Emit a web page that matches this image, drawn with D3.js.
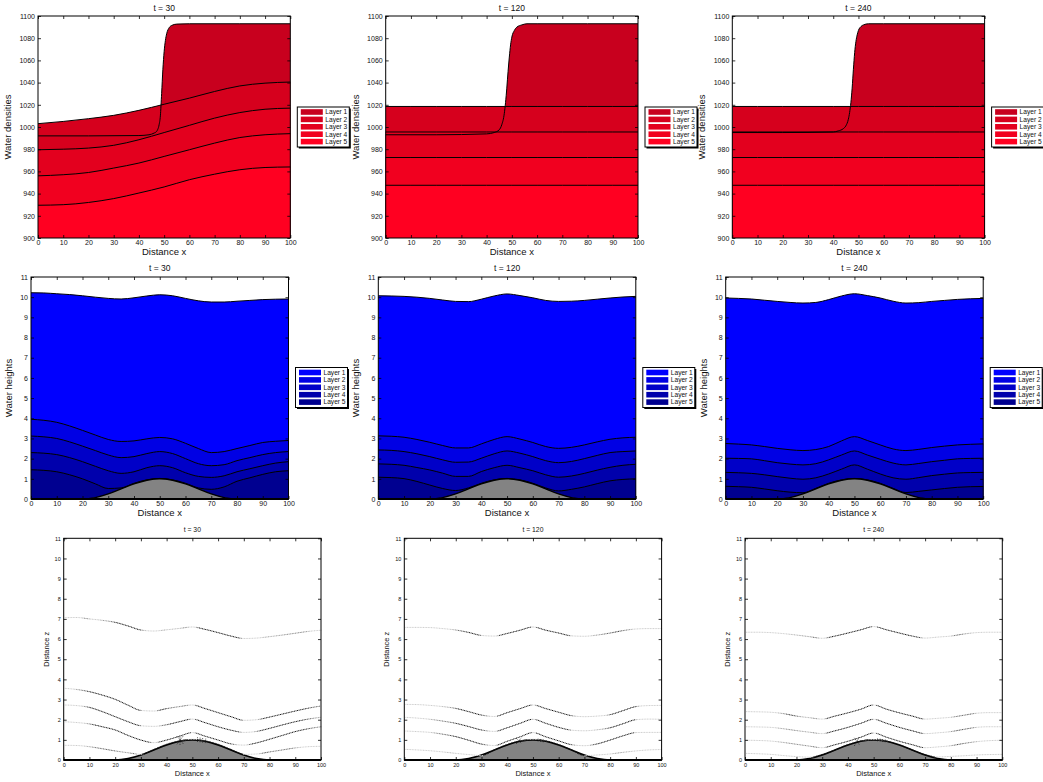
<!DOCTYPE html>
<html>
<head>
<meta charset="utf-8">
<script src="https://cdn.jsdelivr.net/npm/d3@7"></script>
<style>
  body { margin: 0; background: #fff; }
  svg { display: block; }
  text { font-family: "Liberation Sans", Arial, Helvetica, sans-serif; fill: #111; }
</style>
</head>
<body>
<svg id="fig" width="1043" height="782"></svg>
<script>
// ---------------- data ----------------
const timeLabels = ["t = 30", "t = 120", "t = 240"];
const layerNames = ["Layer 1", "Layer 2", "Layer 3", "Layer 4", "Layer 5"];

const xTicks = [0, 10, 20, 30, 40, 50, 60, 70, 80, 90, 100];
const densTicks = [900, 920, 940, 960, 980, 1000, 1020, 1040, 1060, 1080, 1100];
const heightTicks = [0, 1, 2, 3, 4, 5, 6, 7, 8, 9, 10, 11];

// densities of layers 2..5 on a coarse grid
const densX = [0, 10, 20, 30, 40, 50, 60, 70, 80, 90, 100];
const rho2_t30 = [1003, 1005, 1007.5, 1010.5, 1015, 1020.5, 1026, 1032, 1037, 1039.5, 1040.5];
const rho3_t30 = [979.5, 980, 981, 983.5, 988.5, 995, 1001.5, 1008, 1013, 1016, 1017];
const rho4_t30 = [956, 957, 959, 963, 967.5, 973.5, 979.5, 985.5, 990.5, 993, 994];
const rho5_t30 = [929.5, 930, 932, 935.5, 940.5, 946, 952.5, 957.5, 961.5, 963.5, 964];
const rho2_t120 = [1018.5, 1018.5, 1018.5, 1018.5, 1018.5, 1018.5, 1018.5, 1018.5, 1018.5, 1018.5, 1018.5];
const rho3_t120 = [995.5, 995.5, 995.5, 995.5, 995.5, 995.5, 995.5, 995.5, 995.5, 995.5, 995.5];
const rho4_t120 = [972.5, 972.5, 972.5, 972.5, 972.5, 972.5, 972.5, 972.5, 972.5, 972.5, 972.5];
const rho5_t120 = [947.5, 947.5, 947.5, 947.5, 947.5, 947.5, 947.5, 947.5, 947.5, 947.5, 947.5];
const rho2_t240 = [1018.5, 1018.5, 1018.5, 1018.5, 1018.5, 1018.5, 1018.5, 1018.5, 1018.5, 1018.5, 1018.5];
const rho3_t240 = [995.5, 995.5, 995.5, 995.5, 995.5, 995.5, 995.5, 995.5, 995.5, 995.5, 995.5];
const rho4_t240 = [972.5, 972.5, 972.5, 972.5, 972.5, 972.5, 972.5, 972.5, 972.5, 972.5, 972.5];
const rho5_t240 = [947.5, 947.5, 947.5, 947.5, 947.5, 947.5, 947.5, 947.5, 947.5, 947.5, 947.5];

// layer 1 density with the salt front (finer sampling near x = 48)
const frontX_t30 = [0, 20, 40, 44, 46, 47, 47.5, 48, 48.5, 49, 49.5, 50, 50.5, 51, 52, 53, 55, 60, 80, 100];
const rho1_t30 = [992, 992, 992.3, 993, 994.5, 996, 998, 1002, 1010, 1030, 1052, 1068, 1078, 1084, 1089.5, 1091.5, 1092.7, 1093, 1093, 1093];
const frontX_t120 = [0, 20, 40, 43, 45, 46, 47, 47.5, 48, 48.5, 49, 49.5, 50, 51, 52, 54, 56, 60, 80, 100];
const rho1_t120 = [993, 993, 993.8, 995, 997.5, 1002, 1012, 1022, 1035, 1050, 1063, 1074, 1081, 1087, 1090, 1092, 1093, 1093, 1093, 1093];
const frontX_t240 = [0, 20, 40, 42, 44, 45, 46, 46.5, 47, 47.5, 48, 48.5, 49, 49.5, 50, 51, 52, 54, 60, 100];
const rho1_t240 = [995, 995, 995.5, 996.5, 998.5, 1001, 1007, 1013, 1022, 1035, 1052, 1067, 1077, 1083, 1087, 1090.5, 1092, 1093, 1093, 1093];

// fine grid for heights and interface depths
const xGrid = [0, 5, 10, 15, 20, 25, 30, 35, 40, 45, 50, 55, 60, 65, 70, 75, 80, 85, 90, 95, 100];
const bathymetry = [0, 0, 0, 0, 0, 0.07, 0.25, 0.5, 0.75, 0.93, 1.0, 0.93, 0.75, 0.5, 0.25, 0.07, 0, 0, 0, 0, 0];

// top of each layer (layer 1 = free surface)
const h1_t30 = [10.22, 10.21, 10.17, 10.13, 10.07, 10.0, 9.94, 9.91, 9.97, 10.06, 10.12, 10.07, 9.94, 9.82, 9.76, 9.76, 9.8, 9.84, 9.88, 9.9, 9.91];
const h2_t30 = [3.95, 3.9, 3.8, 3.62, 3.4, 3.17, 2.95, 2.85, 2.88, 2.98, 3.05, 2.98, 2.76, 2.5, 2.3, 2.35, 2.5, 2.65, 2.8, 2.86, 2.9];
const h3_t30 = [3.12, 3.08, 3.0, 2.83, 2.62, 2.4, 2.18, 2.05, 2.1, 2.25, 2.35, 2.25, 2.0, 1.75, 1.65, 1.7, 1.9, 2.05, 2.2, 2.3, 2.35];
const h4_t30 = [2.3, 2.27, 2.2, 2.05, 1.85, 1.62, 1.4, 1.27, 1.35, 1.55, 1.65, 1.55, 1.3, 1.12, 1.07, 1.15, 1.35, 1.5, 1.65, 1.78, 1.85];
const h5_t30 = [1.45, 1.42, 1.35, 1.2, 1.0, 0.75, 0.52, 0.55, 0.78, 0.95, 1.02, 0.95, 0.78, 0.55, 0.48, 0.6, 0.88, 1.05, 1.22, 1.35, 1.4];

const h1_t120 = [10.07, 10.06, 10.04, 10.0, 9.94, 9.86, 9.79, 9.78, 9.9, 10.06, 10.16, 10.08, 9.97, 9.84, 9.79, 9.8, 9.84, 9.9, 9.96, 10.01, 10.04];
const h2_t120 = [3.13, 3.11, 3.06, 2.95, 2.81, 2.65, 2.53, 2.53, 2.73, 2.95, 3.09, 2.97, 2.8, 2.6, 2.51, 2.56, 2.68, 2.83, 2.96, 3.03, 3.06];
const h3_t120 = [2.43, 2.41, 2.35, 2.24, 2.1, 1.94, 1.82, 1.83, 2.02, 2.24, 2.38, 2.27, 2.1, 1.9, 1.8, 1.86, 2.0, 2.16, 2.3, 2.35, 2.38];
const h4_t120 = [1.74, 1.72, 1.67, 1.56, 1.44, 1.28, 1.12, 1.12, 1.36, 1.55, 1.67, 1.55, 1.4, 1.2, 1.08, 1.14, 1.27, 1.43, 1.57, 1.67, 1.72];
const h5_t120 = [1.08, 1.06, 1.01, 0.87, 0.69, 0.52, 0.42, 0.55, 0.78, 0.95, 1.02, 0.95, 0.78, 0.55, 0.4, 0.48, 0.6, 0.76, 0.9, 0.97, 1.0];

const h1_t240 = [9.96, 9.94, 9.91, 9.85, 9.79, 9.74, 9.71, 9.74, 9.88, 10.06, 10.17, 10.08, 9.96, 9.8, 9.71, 9.73, 9.79, 9.84, 9.89, 9.92, 9.94];
const h2_t240 = [2.75, 2.72, 2.68, 2.6, 2.51, 2.44, 2.4, 2.45, 2.6, 2.88, 3.09, 2.9, 2.68, 2.48, 2.4, 2.46, 2.55, 2.62, 2.68, 2.71, 2.73];
const h3_t240 = [2.02, 2.01, 1.99, 1.9, 1.8, 1.73, 1.69, 1.75, 1.94, 2.18, 2.38, 2.18, 1.97, 1.78, 1.69, 1.76, 1.85, 1.92, 1.99, 2.01, 2.02];
const h4_t240 = [1.32, 1.3, 1.27, 1.2, 1.11, 1.03, 0.98, 1.05, 1.24, 1.48, 1.69, 1.48, 1.24, 1.05, 0.98, 1.06, 1.16, 1.23, 1.29, 1.31, 1.32];
const h5_t240 = [0.63, 0.61, 0.58, 0.5, 0.41, 0.34, 0.31, 0.53, 0.78, 0.95, 1.02, 0.95, 0.78, 0.53, 0.32, 0.38, 0.45, 0.52, 0.58, 0.61, 0.62];

// interface positions z
const zA_t30 = [7.06, 7.07, 7.0, 6.93, 6.83, 6.65, 6.45, 6.4, 6.46, 6.53, 6.6, 6.48, 6.32, 6.15, 6.03, 6.05, 6.12, 6.2, 6.29, 6.38, 6.44];
const zB_t30 = [3.56, 3.5, 3.39, 3.22, 3.01, 2.72, 2.46, 2.43, 2.55, 2.65, 2.73, 2.55, 2.35, 2.15, 1.97, 2.0, 2.13, 2.28, 2.43, 2.57, 2.68];
const zC_t30 = [2.73, 2.7, 2.61, 2.4, 2.15, 1.9, 1.7, 1.67, 1.75, 1.9, 2.03, 1.85, 1.65, 1.48, 1.37, 1.42, 1.57, 1.74, 1.9, 2.03, 2.12];
const zD_t30 = [1.9, 1.86, 1.79, 1.65, 1.49, 1.22, 0.99, 0.86, 0.99, 1.18, 1.36, 1.18, 0.99, 0.8, 0.74, 0.85, 1.03, 1.22, 1.41, 1.55, 1.65];
const zE_t30 = [0.73, 0.72, 0.66, 0.56, 0.45, 0.36, 0.28, 0.52, 0.78, 0.95, 1.03, 0.95, 0.78, 0.52, 0.28, 0.3, 0.4, 0.5, 0.6, 0.66, 0.68];

const zA_t120 = [6.58, 6.58, 6.57, 6.52, 6.45, 6.33, 6.18, 6.15, 6.28, 6.44, 6.6, 6.44, 6.3, 6.16, 6.14, 6.2, 6.3, 6.42, 6.5, 6.52, 6.52];
const zB_t120 = [2.76, 2.75, 2.71, 2.65, 2.56, 2.4, 2.23, 2.16, 2.35, 2.55, 2.73, 2.55, 2.37, 2.2, 2.15, 2.18, 2.25, 2.45, 2.65, 2.7, 2.71];
const zC_t120 = [2.12, 2.08, 2.02, 1.93, 1.82, 1.66, 1.49, 1.42, 1.6, 1.82, 2.02, 1.82, 1.62, 1.48, 1.45, 1.5, 1.6, 1.8, 2.0, 2.03, 2.02];
const zD_t120 = [1.44, 1.41, 1.37, 1.28, 1.16, 0.98, 0.79, 0.72, 0.93, 1.15, 1.36, 1.15, 0.95, 0.76, 0.71, 0.8, 0.99, 1.2, 1.36, 1.37, 1.37];
const zE_t120 = [0.53, 0.5, 0.46, 0.4, 0.33, 0.27, 0.22, 0.5, 0.77, 0.95, 1.03, 0.95, 0.77, 0.5, 0.22, 0.25, 0.3, 0.38, 0.45, 0.5, 0.52];

const zA_t240 = [6.34, 6.34, 6.32, 6.27, 6.2, 6.12, 6.04, 6.15, 6.3, 6.46, 6.62, 6.46, 6.3, 6.15, 6.05, 6.1, 6.15, 6.25, 6.32, 6.34, 6.34];
const zB_t240 = [2.4, 2.39, 2.37, 2.3, 2.18, 2.1, 2.03, 2.18, 2.34, 2.52, 2.73, 2.52, 2.34, 2.18, 2.03, 2.07, 2.12, 2.22, 2.32, 2.35, 2.35];
const zC_t240 = [1.65, 1.64, 1.62, 1.55, 1.46, 1.38, 1.31, 1.45, 1.62, 1.82, 2.02, 1.82, 1.62, 1.45, 1.31, 1.35, 1.41, 1.52, 1.62, 1.65, 1.65];
const zD_t240 = [0.98, 0.97, 0.94, 0.87, 0.78, 0.69, 0.61, 0.76, 0.93, 1.13, 1.34, 1.13, 0.93, 0.76, 0.61, 0.65, 0.71, 0.82, 0.91, 0.96, 0.98];
const zE_t240 = [0.33, 0.31, 0.28, 0.22, 0.17, 0.14, 0.27, 0.5, 0.76, 0.94, 1.02, 0.94, 0.76, 0.5, 0.27, 0.15, 0.18, 0.21, 0.25, 0.27, 0.28];

// short velocity strokes over the bump crest: [x1, z1, x2, z2]
const strokes_t30 = [[44, 0.78, 46.5, 1.2], [44, 1.18, 46.5, 0.8], [45.2, 0.75, 45.2, 1.22],
                     [52, 0.9, 52, 1.13], [53, 0.88, 53, 1.12], [54, 0.86, 54, 1.1], [55, 0.84, 55.2, 1.06]];
const strokes_t120 = [[43.5, 0.8, 45.5, 1.1], [43.5, 1.08, 45.5, 0.82],
                      [52, 0.92, 52, 1.1], [53, 0.9, 53, 1.08], [54, 0.88, 54, 1.06]];
const strokes_t240 = [[42.5, 0.7, 44.5, 1.15], [42.5, 1.1, 44.5, 0.75],
                      [51.5, 0.93, 51.5, 1.08], [52.5, 0.92, 52.5, 1.06], [53.5, 0.9, 53.5, 1.04], [54.5, 0.88, 54.5, 1.02]];

// ---------------- assembled series ----------------
const zip = (xs, ys) => xs.map((x, i) => [x, ys[i]]);
const densitySets = [
  [zip(frontX_t30, rho1_t30), zip(densX, rho2_t30), zip(densX, rho3_t30), zip(densX, rho4_t30), zip(densX, rho5_t30)],
  [zip(frontX_t120, rho1_t120), zip(densX, rho2_t120), zip(densX, rho3_t120), zip(densX, rho4_t120), zip(densX, rho5_t120)],
  [zip(frontX_t240, rho1_t240), zip(densX, rho2_t240), zip(densX, rho3_t240), zip(densX, rho4_t240), zip(densX, rho5_t240)]
];
const heightSets = [
  [h1_t30, h2_t30, h3_t30, h4_t30, h5_t30],
  [h1_t120, h2_t120, h3_t120, h4_t120, h5_t120],
  [h1_t240, h2_t240, h3_t240, h4_t240, h5_t240]
].map(set => set.map(ys => zip(xGrid, ys)));
const interfaceSets = [
  [zA_t30, zB_t30, zC_t30, zD_t30, zE_t30],
  [zA_t120, zB_t120, zC_t120, zD_t120, zE_t120],
  [zA_t240, zB_t240, zC_t240, zD_t240, zE_t240]
].map(set => set.map(ys => zip(xGrid, ys)));
const strokeSets = [strokes_t30, strokes_t120, strokes_t240];
const bed = zip(xGrid, bathymetry);

// ---------------- styling / layout ----------------
const reds = ["#c8001e", "#d6001d", "#e3001e", "#f1001f", "#ff0021"];
const blues = ["#0000ff", "#0000e4", "#0000c8", "#0000ac", "#000090"];
const bedGray = "#838383";

const rows = {
  dens:   { top: 16,    bottom: 238, lefts: [38, 385.7, 732.3], width: 252.3 },
  height: { top: 277,   bottom: 499, lefts: [31, 378.3, 725.7], width: 257.5 },
  z:      { top: 538.3, bottom: 760, lefts: [63.7, 404.3, 745], width: 257.3 }
};

const svg = d3.select("#fig");
const curve = d3.curveMonotoneX;

function drawFrame(g, x, y, yTickVals, fs, pad) {
  const [x0, x1] = x.range();
  const [yb, yt] = y.range();
  const axes = g.append("g");
  const style = sel => {
    sel.attr("font-size", fs).attr("font-family", '"Liberation Sans", Arial, sans-serif');
    sel.select(".domain").remove();
    sel.selectAll("line").attr("stroke", "#000").attr("stroke-width", 0.8);
    sel.selectAll("text").attr("fill", "#111");
  };
  axes.append("g").attr("transform", `translate(0,${yb})`)
    .call(d3.axisBottom(x).tickValues(xTicks).tickSizeInner(-3).tickSizeOuter(0).tickPadding(pad).tickFormat(d3.format("d"))).call(style);
  axes.append("g").attr("transform", `translate(0,${yt})`)
    .call(d3.axisTop(x).tickValues(xTicks).tickSizeInner(-3).tickSizeOuter(0).tickFormat("")).call(style);
  axes.append("g").attr("transform", `translate(${x0},0)`)
    .call(d3.axisLeft(y).tickValues(yTickVals).tickSizeInner(-3).tickSizeOuter(0).tickPadding(3).tickFormat(d3.format("d"))).call(style);
  axes.append("g").attr("transform", `translate(${x1},0)`)
    .call(d3.axisRight(y).tickValues(yTickVals).tickSizeInner(-3).tickSizeOuter(0).tickFormat("")).call(style);
  g.append("rect").attr("x", x0).attr("y", yt).attr("width", x1 - x0).attr("height", yb - yt)
    .attr("fill", "none").attr("stroke", "#000").attr("stroke-width", 1);
}

function drawLegend(g, left, top, colors) {
  const w = 52, h = 40;
  g.append("rect").attr("x", left + 1.5).attr("y", top + 1.5).attr("width", w).attr("height", h).attr("fill", "#000");
  g.append("rect").attr("x", left).attr("y", top).attr("width", w).attr("height", h)
    .attr("fill", "#fff").attr("stroke", "#000").attr("stroke-width", 1);
  layerNames.forEach((name, i) => {
    const cy = top + 5 + i * 7.4;
    g.append("rect").attr("x", left + 3.5).attr("y", cy - 2.8).attr("width", 22).attr("height", 5.6).attr("fill", colors[i]);
    g.append("text").attr("x", left + 28).attr("y", cy + 2.3).attr("font-size", 6.6).text(name);
  });
}

function labels(g, x, y, title, ylab, opts) {
  const [x0, x1] = x.range();
  const [yb, yt] = y.range();
  const cx = (x0 + x1) / 2, cy = (yb + yt) / 2;
  g.append("text").attr("x", cx).attr("y", yt - opts.titleGap).attr("text-anchor", "middle")
    .attr("font-size", opts.titleSize).text(title);
  g.append("text").attr("x", cx).attr("y", yb + opts.xlabGap).attr("text-anchor", "middle")
    .attr("font-size", opts.labSize).text("Distance x");
  g.append("text").attr("transform", `translate(${x0 - opts.ylabGap},${cy}) rotate(-90)`)
    .attr("text-anchor", "middle").attr("font-size", opts.labSize).text(ylab);
}

// ---------------- row 1: water densities ----------------
densitySets.forEach((layers, k) => {
  const r = rows.dens, left = r.lefts[k];
  const x = d3.scaleLinear().domain([0, 100]).range([left, left + r.width]);
  const y = d3.scaleLinear().domain([900, 1100]).range([r.bottom, r.top]);
  const g = svg.append("g");
  const area = d3.area().x(d => x(d[0])).y0(y(900)).y1(d => y(d[1])).curve(curve);
  const line = d3.line().x(d => x(d[0])).y(d => y(d[1])).curve(curve);
  layers.forEach((pts, i) => g.append("path").attr("d", area(pts)).attr("fill", reds[i]));
  layers.forEach(pts => g.append("path").attr("d", line(pts)).attr("fill", "none").attr("stroke", "#000").attr("stroke-width", 1));
  drawFrame(g, x, y, densTicks, 7, 2.5);
  labels(g, x, y, timeLabels[k], "Water densities", { titleGap: 5, titleSize: 8.5, xlabGap: 17, labSize: 9.5, ylabGap: 27 });
  drawLegend(svg, left + r.width + 7, 107, reds);
});

// ---------------- row 2: water heights ----------------
heightSets.forEach((layers, k) => {
  const r = rows.height, left = r.lefts[k];
  const x = d3.scaleLinear().domain([0, 100]).range([left, left + r.width]);
  const y = d3.scaleLinear().domain([0, 11]).range([r.bottom, r.top]);
  const g = svg.append("g");
  const area = d3.area().x(d => x(d[0])).y0(y(0)).y1(d => y(d[1])).curve(curve);
  const line = d3.line().x(d => x(d[0])).y(d => y(d[1])).curve(curve);
  layers.forEach((pts, i) => g.append("path").attr("d", area(pts)).attr("fill", blues[i]));
  g.append("path").attr("d", area(bed)).attr("fill", bedGray);
  layers.forEach(pts => g.append("path").attr("d", line(pts)).attr("fill", "none").attr("stroke", "#000").attr("stroke-width", 1));
  g.append("path").attr("d", line(bed)).attr("fill", "none").attr("stroke", "#000").attr("stroke-width", 1.4);
  g.append("line").attr("x1", x(0)).attr("x2", x(100)).attr("y1", y(0)).attr("y2", y(0)).attr("stroke", "#000").attr("stroke-width", 2);
  drawFrame(g, x, y, heightTicks, 7, 2.5);
  labels(g, x, y, timeLabels[k], "Water heights", { titleGap: 6, titleSize: 8.5, xlabGap: 16.8, labSize: 9.5, ylabGap: 19 });
  drawLegend(svg, left + r.width + 7, 367.5, blues);
});

// ---------------- row 3: interface positions ----------------
interfaceSets.forEach((lines, k) => {
  const r = rows.z, left = r.lefts[k];
  const x = d3.scaleLinear().domain([0, 100]).range([left, left + r.width]);
  const y = d3.scaleLinear().domain([0, 11]).range([r.bottom, r.top]);
  const g = svg.append("g");
  const area = d3.area().x(d => x(d[0])).y0(y(0)).y1(d => y(d[1])).curve(curve);
  const line = d3.line().x(d => x(d[0])).y(d => y(d[1])).curve(curve);
  g.append("path").attr("d", area(bed)).attr("fill", bedGray);
  g.append("path").attr("d", line(bed)).attr("fill", "none").attr("stroke", "#000").attr("stroke-width", 1.6);
  g.append("line").attr("x1", x(0)).attr("x2", x(100)).attr("y1", y(0)).attr("y2", y(0)).attr("stroke", "#000").attr("stroke-width", 2.2);
  // dotted interfaces: dots are darker where the interface slopes
  const shade = d3.scaleLinear().domain([0.1, 0.22]).range([205, 15]).clamp(true);
  lines.forEach(pts => {
    const p = g.append("path").attr("d", line(pts)).attr("fill", "none").attr("stroke", "none");
    const node = p.node(), len = node.getTotalLength();
    const step = 1.6;
    let prev = node.getPointAtLength(0);
    for (let s = step; s <= len; s += step) {
      const q = node.getPointAtLength(s);
      const slope = Math.abs((q.y - prev.y) / Math.max(1e-6, q.x - prev.x));
      const v = Math.round(shade(slope));
      g.append("rect").attr("x", q.x - 0.5).attr("y", q.y - 0.5).attr("width", 1).attr("height", 1)
        .attr("fill", `rgb(${v},${v},${v})`);
      prev = q;
    }
    p.remove();
  });
  strokeSets[k].forEach(s => g.append("line")
    .attr("x1", x(s[0])).attr("y1", y(s[1])).attr("x2", x(s[2])).attr("y2", y(s[3]))
    .attr("stroke", "#111").attr("stroke-width", 0.7).attr("stroke-dasharray", "1,0.8"));
  drawFrame(g, x, y, heightTicks, 5.5, 3);
  labels(g, x, y, timeLabels[k], "Distance z", { titleGap: 6, titleSize: 6.8, xlabGap: 16, labSize: 7.5, ylabGap: 15 });
});
</script>
</body>
</html>
